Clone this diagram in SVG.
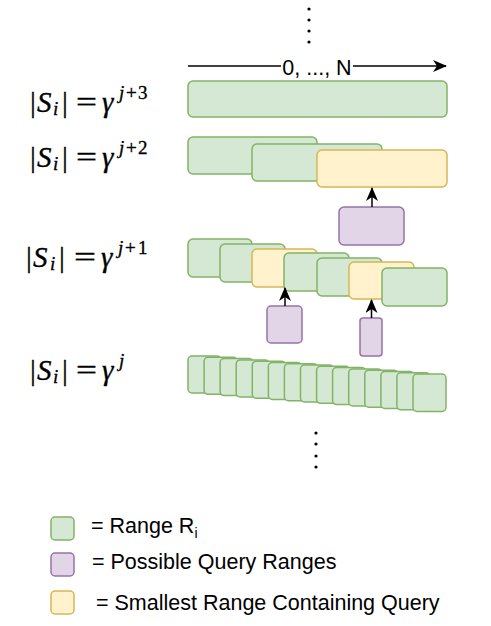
<svg xmlns="http://www.w3.org/2000/svg" width="491" height="626" viewBox="0 0 491 626">
<defs>
<style>
.g{fill:#d5e8d4;stroke:#82b366;stroke-width:1.5}
.p{fill:#e1d5e7;stroke:#9673a6;stroke-width:1.5}
.y{fill:#fff2cc;stroke:#d6b656;stroke-width:1.5}
.t{font-family:"Liberation Sans",Arial,sans-serif;font-size:21.5px;fill:#000}
.m{font-family:"Liberation Serif","Times New Roman",serif;font-size:29px;fill:#000;stroke:#000;stroke-width:0.35}
.it{font-style:italic}
.sb{font-size:19px}
.ln{stroke:#000;stroke-width:1.5;fill:none}
.dot{fill:#000}
</style>
<marker id="ah" viewBox="0 0 14 12" refX="13" refY="6" markerWidth="14" markerHeight="12" markerUnits="userSpaceOnUse" orient="auto">
<path d="M0,0 L14,6 L0,12 L4,6 Z" fill="#000"/>
</marker>
</defs>
<rect width="491" height="626" fill="#fff"/>

<g id="dots-top">
<circle class="dot" cx="309" cy="9" r="1.6"/>
<circle class="dot" cx="309" cy="20" r="1.6"/>
<circle class="dot" cx="309" cy="31" r="1.6"/>
<circle class="dot" cx="309" cy="42" r="1.6"/>
</g>

<g id="label-j3">
<text class="m" y="111.5"><tspan x="30">|</tspan><tspan x="37" class="it">S</tspan><tspan x="53" dy="3" class="it sb">i</tspan><tspan x="62" dy="-3">|</tspan></text>
<text class="m" x="76" y="111.5" textLength="21" lengthAdjust="spacingAndGlyphs">=</text>
<text class="m" y="111.5"><tspan x="102" class="it">γ</tspan><tspan x="119" dy="-13" class="it sb">j</tspan><tspan x="126" class="sb">+</tspan><tspan x="138" class="sb">3</tspan></text>
</g>
<g id="label-j2">
<text class="m" y="166.5"><tspan x="30">|</tspan><tspan x="37" class="it">S</tspan><tspan x="53" dy="3" class="it sb">i</tspan><tspan x="62" dy="-3">|</tspan></text>
<text class="m" x="76" y="166.5" textLength="21" lengthAdjust="spacingAndGlyphs">=</text>
<text class="m" y="166.5"><tspan x="102" class="it">γ</tspan><tspan x="119" dy="-13" class="it sb">j</tspan><tspan x="126" class="sb">+</tspan><tspan x="138" class="sb">2</tspan></text>
</g>
<g id="label-j1">
<text class="m" y="266.5"><tspan x="26">|</tspan><tspan x="33" class="it">S</tspan><tspan x="50" dy="3" class="it sb">i</tspan><tspan x="59" dy="-3">|</tspan></text>
<text class="m" x="74" y="266.5" textLength="22" lengthAdjust="spacingAndGlyphs">=</text>
<text class="m" y="266.5"><tspan x="101" class="it">γ</tspan><tspan x="118" dy="-13" class="it sb">j</tspan><tspan x="125" class="sb">+</tspan><tspan x="138" class="sb">1</tspan></text>
</g>
<g id="label-j">
<text class="m" y="380"><tspan x="30">|</tspan><tspan x="37" class="it">S</tspan><tspan x="53" dy="3" class="it sb">i</tspan><tspan x="62" dy="-3">|</tspan></text>
<text class="m" x="76" y="380" textLength="21" lengthAdjust="spacingAndGlyphs">=</text>
<text class="m" y="380"><tspan x="102" class="it">γ</tspan><tspan x="119" dy="-13" class="it sb">j</tspan></text>
</g>

<g id="row-j3">
<rect class="g" x="188" y="81" width="259" height="36" rx="5"/>
</g>

<g id="row-j2">
<rect class="g" x="188" y="137" width="129" height="37" rx="5"/>
<rect class="g" x="252" y="144" width="130" height="37" rx="5"/>
<rect class="y" x="317" y="150" width="130" height="37" rx="5"/>
</g>

<g id="row-j1">
<rect class="g" x="188" y="239" width="64" height="38" rx="5"/>
<rect class="g" x="220" y="244" width="65" height="38" rx="5"/>
<rect class="y" x="252" y="249" width="65" height="38" rx="5"/>
<rect class="g" x="284" y="253" width="65" height="38" rx="5"/>
<rect class="g" x="317" y="258" width="65" height="38" rx="5"/>
<rect class="y" x="349" y="262" width="65" height="37" rx="5"/>
<rect class="g" x="382" y="268" width="65" height="38" rx="5"/>
</g>

<g id="row-j">
<rect class="g" x="188" y="356" width="33" height="37" rx="4"/>
<rect class="g" x="204.1" y="357.3" width="33" height="37" rx="4"/>
<rect class="g" x="220.1" y="358.6" width="33" height="37" rx="4"/>
<rect class="g" x="236.2" y="359.9" width="33" height="37" rx="4"/>
<rect class="g" x="252.3" y="361.2" width="33" height="37" rx="4"/>
<rect class="g" x="268.4" y="362.5" width="33" height="37" rx="4"/>
<rect class="g" x="284.4" y="363.7" width="33" height="37" rx="4"/>
<rect class="g" x="300.5" y="365" width="33" height="37" rx="4"/>
<rect class="g" x="316.6" y="366.3" width="33" height="37" rx="4"/>
<rect class="g" x="332.6" y="367.6" width="33" height="37" rx="4"/>
<rect class="g" x="348.7" y="368.9" width="33" height="37" rx="4"/>
<rect class="g" x="364.8" y="370.2" width="33" height="37" rx="4"/>
<rect class="g" x="380.9" y="371.5" width="33" height="37" rx="4"/>
<rect class="g" x="396.9" y="372.8" width="33" height="37" rx="4"/>
<rect class="g" x="413" y="374" width="33" height="37.5" rx="4"/>
</g>

<g id="queries">
<rect class="p" x="339" y="207" width="65" height="38" rx="5"/>
<rect class="p" x="267" y="306" width="35" height="37" rx="4"/>
<rect class="p" x="360" y="318" width="22" height="38" rx="3"/>
</g>

<g id="connectors">
<line class="ln" x1="188" y1="66" x2="446" y2="66" marker-end="url(#ah)"/>
<line class="ln" x1="372" y1="207" x2="372" y2="188" marker-end="url(#ah)"/>
<line class="ln" x1="285" y1="306" x2="285" y2="288" marker-end="url(#ah)"/>
<line class="ln" x1="371.5" y1="318" x2="371.5" y2="300" marker-end="url(#ah)"/>
</g>

<g id="axis-label">
<rect x="281" y="55" width="72" height="22" fill="#fff"/>
<text class="t" x="317" y="75" text-anchor="middle">0, ..., N</text>
</g>

<g id="dots-bottom">
<circle class="dot" cx="316" cy="433" r="1.6"/>
<circle class="dot" cx="316" cy="444" r="1.6"/>
<circle class="dot" cx="316" cy="456" r="1.6"/>
<circle class="dot" cx="316" cy="467" r="1.6"/>
</g>

<g id="legend">
<rect class="g" x="51" y="517" width="23" height="23" rx="4"/>
<rect class="p" x="51" y="553" width="23" height="23" rx="4"/>
<rect class="y" x="51" y="591" width="23" height="23" rx="4"/>
<text class="t" x="91" y="533">= Range R<tspan font-size="14" dy="5">i</tspan></text>
<text class="t" x="92" y="569">= Possible Query Ranges</text>
<text class="t" x="96" y="610">= Smallest Range Containing Query</text>
</g>
</svg>
